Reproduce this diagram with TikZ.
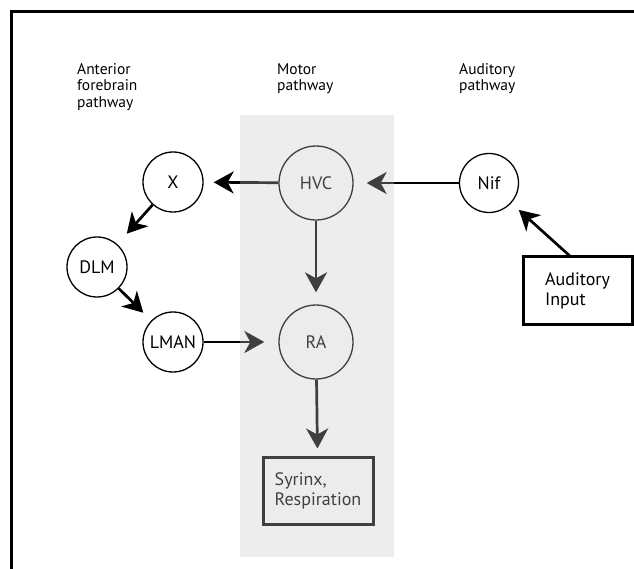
\documentclass[tikz,border=0pt]{standalone}
\usepackage{fontspec}
\setmainfont{PT Sans}
\usetikzlibrary{arrows.meta}
\begin{document}
\begin{tikzpicture}[x=1pt,y=-1pt,
  lbl/.style={font=\fontsize{18}{20}\selectfont},
  nuc/.style={lbl, circle, draw=black, line width=1.3pt, fill=white, inner sep=0pt},
  outbox/.style={lbl, draw=black, line width=3pt, fill=white, align=left, inner sep=0pt},
  hdr/.style={font=\fontsize{15.5}{16.5}\selectfont, align=left, anchor=north west, inner sep=0pt},
  arr/.style={line width=2.7pt, -{Stealth[length=20pt,width=22pt,inset=6pt]}},
]
\useasboundingbox (0,0) rectangle (634,569);
% frame
\draw[line width=3pt] (11.5,569) -- (11.5,11.5) -- (634,11.5);

% headers
\node[hdr] (h1) at (77,63) {Anterior\\forebrain\\pathway};
\node[hdr] (h2) at (277,63) {Motor\\pathway};
\node[hdr] (h3) at (459,63) {Auditory\\pathway};

% nuclei
\node[nuc, minimum size=74pt] (HVC) at (316,183) {HVC};
\node[nuc, minimum size=74pt] (RA) at (316,342) {RA};
\node[nuc, minimum size=60pt] (X) at (173,182) {X};
\node[nuc, minimum size=60pt] (DLM) at (97,267) {DLM};
\node[nuc, minimum size=60pt] (LMAN) at (173,342) {LMAN};
\node[nuc, minimum size=59pt] (Nif) at (489,183) {Nif};

% boxes
\node[outbox, minimum width=110pt, minimum height=67pt] (syr) at (318,490.5) {Syrinx,\\Respiration};
\node[outbox, minimum width=109pt, minimum height=67pt] (aud) at (577.5,290.5) {Auditory\\Input};
\coordinate (audstart) at (571,257);

% connectors
\draw[arr, shorten >=10pt] (HVC) -- (X);
\draw[arr, shorten >=13pt] (Nif) -- (HVC);
\draw[arr, shorten >=12pt] (HVC) -- (RA);
\draw[arr, shorten >=14pt] (X) -- (DLM);
\draw[arr, shorten >=11pt] (DLM) -- (LMAN);
\draw[arr, shorten >=14pt] (LMAN) -- (RA);
\draw[arr, shorten >=7pt] (RA) -- (syr);
\draw[arr, shorten >=10pt] (audstart) -- (Nif);

% motor pathway band (translucent overlay)
\fill[black!22, opacity=0.32] (240,115) rectangle (394,557);
\end{tikzpicture}
\end{document}
